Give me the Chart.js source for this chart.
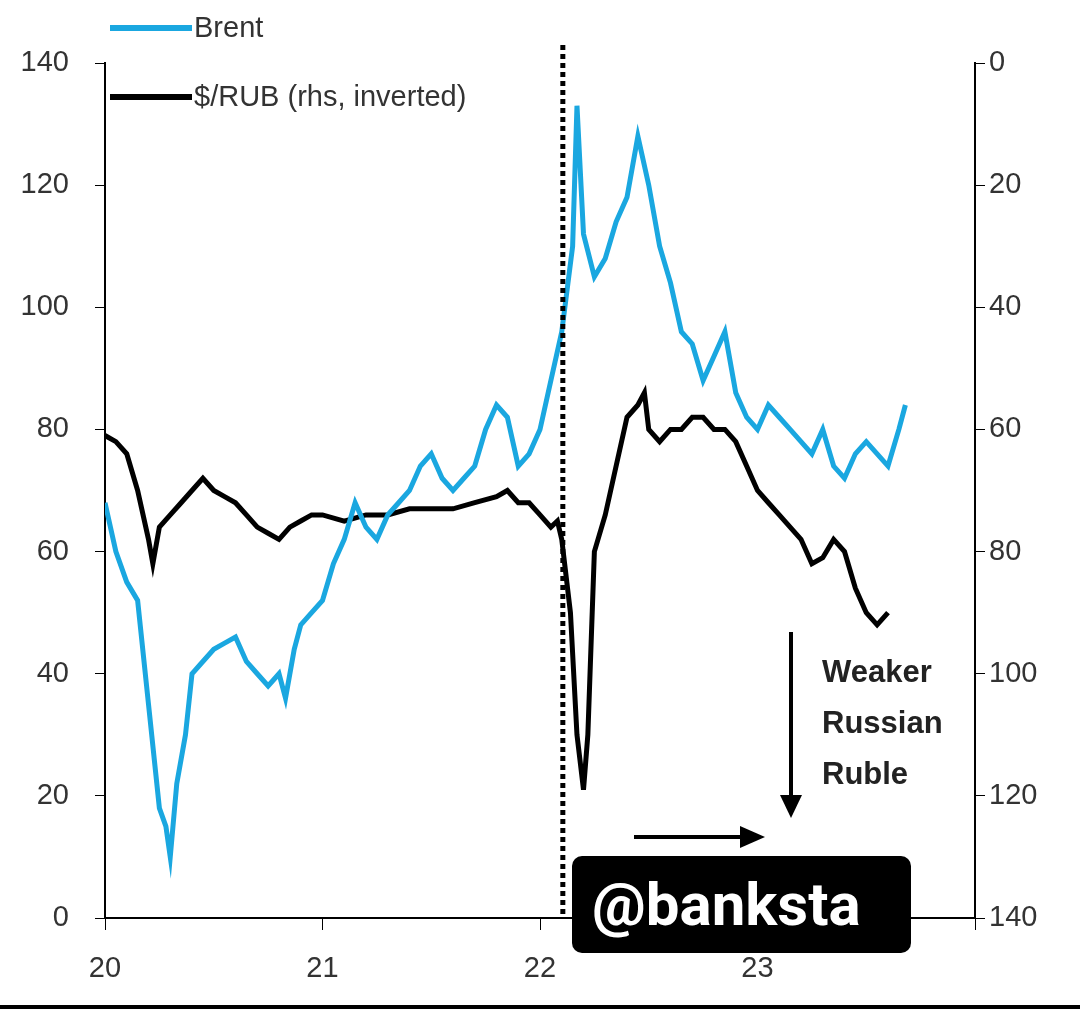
<!DOCTYPE html>
<html><head><meta charset="utf-8">
<script src="https://cdn.jsdelivr.net/npm/chart.js@4"></script>
<style>html,body{margin:0;background:#fff}#wrap{width:1080px;height:1012px}</style>
</head><body><div id="wrap"><canvas id="c"></canvas></div>
<script>
const brentX = [2020.0,2020.05,2020.1,2020.15,2020.2,2020.25,2020.28,2020.3,2020.33,2020.37,2020.4,2020.45,2020.5,2020.55,2020.6,2020.65,2020.7,2020.75,2020.8,2020.83,2020.87,2020.9,2020.95,2021.0,2021.05,2021.1,2021.15,2021.2,2021.25,2021.3,2021.35,2021.4,2021.45,2021.5,2021.55,2021.6,2021.65,2021.7,2021.75,2021.8,2021.85,2021.9,2021.95,2022.0,2022.05,2022.1,2022.15,2022.17,2022.2,2022.25,2022.3,2022.35,2022.4,2022.45,2022.5,2022.55,2022.6,2022.65,2022.7,2022.75,2022.8,2022.85,2022.9,2022.95,2023.0,2023.05,2023.1,2023.15,2023.2,2023.25,2023.3,2023.35,2023.4,2023.45,2023.5,2023.55,2023.6,2023.65,2023.68];
const brentY = [68,60,55,52,35,18,15,10,22,30,40,42,44,45,46,42,40,38,40,36,44,48,50,52,58,62,68,64,62,66,68,70,74,76,72,70,72,74,80,84,82,74,76,80,88,96,110,133,112,105,108,114,118,128,120,110,104,96,94,88,92,96,86,82,80,84,82,80,78,76,80,74,72,76,78,76,74,80,84];
const rubX = [2020.0,2020.05,2020.1,2020.15,2020.2,2020.22,2020.25,2020.3,2020.35,2020.4,2020.45,2020.5,2020.55,2020.6,2020.65,2020.7,2020.75,2020.8,2020.85,2020.9,2020.95,2021.0,2021.1,2021.2,2021.3,2021.4,2021.5,2021.6,2021.7,2021.8,2021.85,2021.9,2021.95,2022.0,2022.05,2022.08,2022.1,2022.14,2022.17,2022.2,2022.22,2022.25,2022.3,2022.35,2022.4,2022.45,2022.48,2022.5,2022.55,2022.6,2022.65,2022.7,2022.75,2022.8,2022.85,2022.9,2022.95,2023.0,2023.05,2023.1,2023.15,2023.2,2023.25,2023.3,2023.35,2023.4,2023.45,2023.5,2023.55,2023.6];
const rubY = [61,62,64,70,78,82,76,74,72,70,68,70,71,72,74,76,77,78,76,75,74,74,75,74,74,73,73,73,72,71,70,72,72,74,76,75,78,90,110,119,110,80,74,66,58,56,54,60,62,60,60,58,58,60,60,62,66,70,72,74,76,78,82,81,78,80,86,90,92,90];
const xTicks = [2020,2021,2022,2023,2024];
const leftTicks = [0,20,40,60,80,100,120,140];
const invasion = 2022.105;

const pts = (xs, ys) => xs.map((x, i) => ({x, y: ys[i]}));
const font = {family: 'Liberation Sans, Arial, sans-serif', size: 29};

const deco = {
  id: 'deco',
  afterDraw(chart) {
    const {ctx, scales: {x, y}} = chart;
    ctx.save();
    ctx.strokeStyle = '#000'; ctx.lineWidth = 5; ctx.setLineDash([5, 4]);
    const vx = x.getPixelForValue(invasion);
    ctx.beginPath(); ctx.moveTo(vx, 45); ctx.lineTo(vx, y.bottom); ctx.stroke();
    ctx.setLineDash([]);
    ctx.font = '29px Liberation Sans, Arial, sans-serif'; ctx.textBaseline = 'middle';
    ctx.lineWidth = 6;
    ctx.strokeStyle = '#1aa7e0'; ctx.beginPath(); ctx.moveTo(110, 28); ctx.lineTo(192, 28); ctx.stroke();
    ctx.strokeStyle = '#000'; ctx.beginPath(); ctx.moveTo(110, 97); ctx.lineTo(192, 97); ctx.stroke();
    ctx.fillStyle = '#333'; ctx.fillText('Brent', 194, 29); ctx.fillText('$/RUB (rhs, inverted)', 194, 98);
    ctx.strokeStyle = '#000'; ctx.fillStyle = '#000'; ctx.lineWidth = 4;
    ctx.beginPath(); ctx.moveTo(791, 632); ctx.lineTo(791, 800); ctx.stroke();
    ctx.beginPath(); ctx.moveTo(780, 795); ctx.lineTo(802, 795); ctx.lineTo(791, 818); ctx.fill();
    ctx.beginPath(); ctx.moveTo(634, 837); ctx.lineTo(745, 837); ctx.stroke();
    ctx.beginPath(); ctx.moveTo(740, 826); ctx.lineTo(765, 837); ctx.lineTo(740, 848); ctx.fill();
    ctx.font = 'bold 31px Liberation Sans, Arial, sans-serif'; ctx.fillStyle = '#222';
    ctx.fillText('Weaker', 822, 673); ctx.fillText('Russian', 822, 724); ctx.fillText('Ruble', 822, 775);
    ctx.fillStyle = '#000';
    ctx.beginPath(); ctx.roundRect(572, 856, 339, 97, 10); ctx.fill();
    ctx.fillStyle = '#fff'; ctx.font = 'bold 60px Roboto, sans-serif';
    ctx.fillText('@banksta', 592, 910);
    ctx.fillStyle = '#000'; ctx.fillRect(0, 1005, 1080, 4);
    ctx.restore();
  }
};

new Chart(document.getElementById('c'), {
  type: 'line',
  data: {datasets: [
    {label: 'Brent', data: pts(brentX, brentY), yAxisID: 'y', borderColor: '#1aa7e0', borderWidth: 5, pointRadius: 0, tension: 0},
    {label: '$/RUB (rhs, inverted)', data: pts(rubX, rubY), yAxisID: 'y2', borderColor: '#000', borderWidth: 5, pointRadius: 0, tension: 0}
  ]},
  options: {
    responsive: true, maintainAspectRatio: false, animation: false,
    layout: {padding: {top: 63, left: 0, right: 0, bottom: 0}},
    plugins: {legend: {display: false}, tooltip: {enabled: false}},
    scales: {
      x: {type: 'linear', min: 2020, max: 2024,
        afterBuildTicks: s => { s.ticks = xTicks.map(v => ({value: v})); },
        afterFit: s => { s.height = 94; },
        border: {color: '#000', width: 2},
        grid: {drawOnChartArea: false, tickLength: 12, color: '#000'},
        ticks: {font, color: '#333', callback: v => v === 2024 ? '' : String(v - 2000), padding: 22}},
      y: {min: 0, max: 140, position: 'left',
        afterBuildTicks: s => { s.ticks = leftTicks.map(v => ({value: v})); },
        afterFit: s => { s.width = 105; },
        border: {color: '#000', width: 2},
        grid: {drawOnChartArea: false, tickLength: 10, color: '#000'},
        ticks: {font, color: '#333', padding: 26}},
      y2: {min: 0, max: 140, reverse: true, position: 'right',
        afterBuildTicks: s => { s.ticks = leftTicks.map(v => ({value: v})); },
        afterFit: s => { s.width = 105; },
        border: {color: '#000', width: 2},
        grid: {drawOnChartArea: false, tickLength: 10, color: '#000'},
        ticks: {font, color: '#333', padding: 4}}
    }
  },
  plugins: [deco]
});
</script></body></html>
